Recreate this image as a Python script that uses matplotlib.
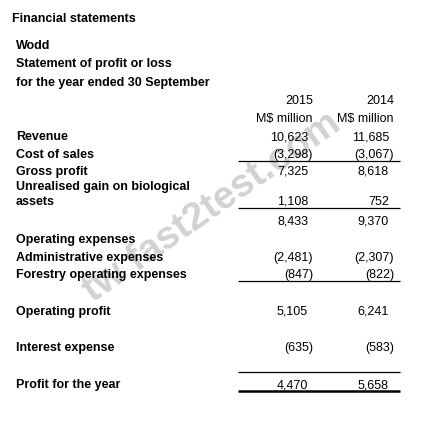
import matplotlib
matplotlib.use("Agg")
import matplotlib.pyplot as plt

# ------------------ DATA ------------------
header_lines = ["Wodd", "Statement of profit or loss", "for the year ended 30 September"]
years = ["2015", "2014"]
unit = "M$ million"
row_labels = ["Revenue", "Cost of sales", "Gross profit", "Unrealised gain on biological",
              "assets", "", "Operating expenses", "Administrative expenses",
              "Forestry operating expenses", "Operating profit", "Interest expense",
              "Profit for the year"]
values_2015 = [10623, -3298, 7325, None, 1108, 8433, None, -2481, -847, 5105, -635, 4470]
values_2014 = [11685, -3067, 8618, None, 752, 9370, None, -2307, -822, 6241, -583, 5658]

# ------------------ LAYOUT (pixels, y from top) ------------------
row_base = [140, 158, 175, 190, 205, 224, 243, 261, 278, 315, 351, 388]
col_right = [308, 389]
rule_rows = [161, 208, 281, 372]
FONT = "Liberation Sans"
FS = 9


def fmt(v):
    if v is None:
        return ""
    s = f"{abs(v):,}"
    return f"({s})" if v < 0 else s


fig = plt.figure(figsize=(4.44, 4.21), dpi=100)
ax = fig.add_axes([0, 0, 1, 1])
ax.set_xlim(0, 444)
ax.set_ylim(421, 0)
ax.axis("off")

# watermark
ax.text(212, 207, "tw fast2test.com", rotation=35, fontsize=28, fontweight="bold",
        family=FONT, color="#d2d2d2", ha="center", va="center", zorder=0)

ax.text(12, 22, "Financial statements", fontsize=FS, fontweight="bold", family=FONT)
for txt, y in zip(header_lines, [49, 67, 86]):
    ax.text(16, y, txt, fontsize=FS, fontweight="bold", family=FONT)

for yr, x in zip(years, col_right):
    ax.text(x + 5, 104, yr, fontsize=FS, family=FONT, ha="right")
    ax.text(x + 4, 122, unit, fontsize=FS, family=FONT, ha="right")

for lab, y, v15, v14 in zip(row_labels, row_base, values_2015, values_2014):
    ax.text(16, y, lab, fontsize=FS, fontweight="bold", family=FONT, zorder=2)
    for v, x in zip([v15, v14], col_right):
        shift = 5 if (v is not None and v < 0) else 0
        ax.text(x + shift, y, fmt(v), fontsize=FS, family=FONT, ha="right", zorder=2)

for y in rule_rows:
    ax.plot([238, 400], [y, y], color="black", lw=0.9, solid_capstyle="butt")
ax.plot([238, 400], [391, 391], color="black", lw=1.8, solid_capstyle="butt")

fig.savefig("out.png", dpi=100, facecolor="white")
